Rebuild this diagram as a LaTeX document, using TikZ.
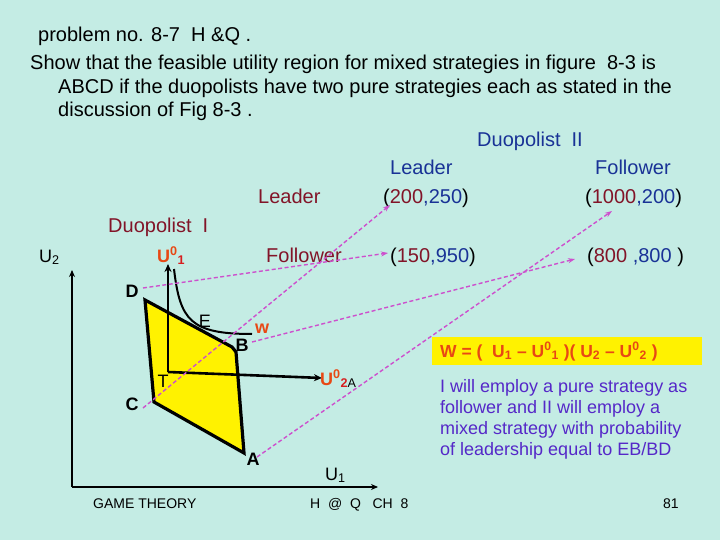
\documentclass[tikz,border=0pt]{standalone}
\usepackage{fontspec}
\setmainfont{Liberation Sans}
\usetikzlibrary{arrows.meta}
\definecolor{bg}{RGB}{196,236,228}
\definecolor{maroon}{RGB}{130,20,40}
\definecolor{navy}{RGB}{25,50,150}
\definecolor{orangered}{RGB}{232,72,20}
\definecolor{subred}{RGB}{215,30,30}
\definecolor{purpletext}{RGB}{85,40,200}
\definecolor{dashmag}{RGB}{205,80,205}
\tikzset{
  txt/.style={anchor=base west, inner sep=0pt, font=\fontsize{20}{22}\selectfont},
  lbl/.style={inner sep=0pt, font=\fontsize{18}{20}\selectfont},
  blbl/.style={inner sep=0pt, font=\fontsize{18}{20}\selectfont\bfseries},
  foot/.style={anchor=base west, inner sep=0pt, font=\fontsize{14}{16}\selectfont},
  darr/.style={draw=dashmag, line width=1.4pt, dash pattern=on 4pt off 2.5pt, -{Stealth[length=7pt,width=5pt]}},
  axis/.style={draw=black, line width=2pt, -{Stealth[length=7pt,width=6pt]}},
  inaxis/.style={draw=black, line width=2.6pt, -{Stealth[length=8pt,width=7pt]}},
}
\begin{document}
\begin{tikzpicture}[x=1pt,y=-1pt]
\fill[bg] (0,0) rectangle (720,540);
\useasboundingbox (0,0) rectangle (720,540);

% heading text
\node[txt] (t1) at (38,42) {problem no. 8-7\ \ H \&Q .};
\node[txt] (t2) at (30,70) {Show that the feasible utility region for mixed strategies in figure\ \ 8-3 is};
\node[txt] (t3) at (58,94) {ABCD if the duopolists have two pure strategies each as stated in the};
\node[txt] (t4) at (58,117) {discussion of Fig 8-3 .};

% payoff table
\node[txt, text=navy] (duo2) at (477,147) {Duopolist\ \ II};
\node[txt, text=navy] (lead2) at (390,175) {Leader};
\node[txt, text=navy] (foll2) at (595,175) {Follower};
\node[txt, text=maroon] (lead1) at (258,204) {Leader};
\node[txt] (p11) at (383,204) {(\textcolor{maroon}{200}\textcolor{navy}{,250})};
\node[txt] (p12) at (585,204) {(\textcolor{maroon}{1000}\textcolor{navy}{,200})};
\node[txt, text=maroon] (duo1) at (108,233) {Duopolist\ \ I};
\node[txt, text=maroon] (foll1) at (266,262) {Follower};
\node[txt] (p21) at (390,262) {(\textcolor{maroon}{150}\textcolor{navy}{,950})};
\node[txt] (p22) at (587,262) {(\textcolor{maroon}{800 }\textcolor{navy}{,800 })};

% outer axes
\coordinate (O) at (72,487);
\coordinate (Ytop) at (72,270);
\coordinate (Xend) at (378,487);
\draw[axis] (O) -- (Ytop);
\draw[axis] (O) -- (Xend);
\node[lbl, anchor=base west] (U2) at (39,262) {U\textsubscript{2}};
\node[lbl, anchor=base west] (U1) at (325,480) {U\textsubscript{1}};

% feasible region
\coordinate (D) at (145,300);
\coordinate (Bk) at (232,347);
\coordinate (B) at (236,352);
\coordinate (A) at (244,453);
\coordinate (C) at (154,402);
\filldraw[fill=yellow, draw=black, line width=3.2pt, line join=miter] (D) -- (Bk) -- (B) -- (A) -- (C) -- cycle;

% inner axes from threat point T
\coordinate (T) at (168,372);
\coordinate (Ttop) at (168,264);
\coordinate (Tend) at (322,378);
\draw[inaxis] (T) -- (Ttop);
\draw[inaxis] (T) -- (Tend);

% indifference curve
\coordinate (h0) at (174,269);
\coordinate (h1) at (252,334);
\draw[black, line width=2pt] (h0) .. controls (180,320) and (190,334) .. (h1);

% point labels
\node[blbl] (lD) at (132,291) {D};
\node[blbl] (lC) at (132,404) {C};
\node[lbl] (lT) at (163,381) {T};
\node[blbl] (lA) at (253,459) {A};
\node[blbl] (lB) at (242,345) {B};
\node[lbl] (lE) at (205,321) {E};
\node[blbl, text=orangered] (lw) at (262,329) {w};
\node[blbl, text=orangered, anchor=base west] (U01) at (157,262) {U\textsuperscript{0}\textsubscript{\textcolor{subred}{1}}};
\node[blbl, text=orangered, anchor=base west] (U02) at (320,385) {U\textsuperscript{0}\textsubscript{\textcolor{subred}{2}\textcolor{black}{\mdseries A}}};

% dashed mapping arrows
\coordinate (sD) at (143,288);
\coordinate (sC) at (143,408);
\coordinate (sB) at (252,342);
\coordinate (sA) at (257,457);
\coordinate (e21) at (388,253);
\coordinate (e11) at (390,205);
\coordinate (e22) at (575,259);
\coordinate (e12) at (612,211);
\draw[darr] (sD) -- (e21);
\draw[darr] (sC) -- (e11);
\draw[darr] (sB) -- (e22);
\draw[darr] (sA) -- (e12);

% Nash product box
\node[fill=yellow, minimum width=270pt, minimum height=28pt, anchor=north west, inner sep=0pt] (wbox) at (432,337) {};
\node[anchor=base west, inner sep=0pt, text=orangered, font=\fontsize{17.5}{19}\selectfont\bfseries] (wtxt) at (440,357)
  {W = (\ \ U\textsubscript{1} -- U\textsuperscript{0}\textsubscript{1} )( U\textsubscript{2} -- U\textsuperscript{0}\textsubscript{2} )};

% explanation
\node[anchor=north west, inner sep=0pt, align=left, text=purpletext, font=\fontsize{18}{21}\selectfont] (expl) at (440,379)
  {I will employ a pure strategy as\\follower and II will employ a\\mixed strategy with probability\\of leadership equal to EB/BD};

% footer
\node[foot] (f1) at (93,508) {GAME THEORY};
\node[foot] (f2) at (310,508) {H\ \ @\ \ Q\ \ \ CH\ \ 8};
\node[foot] (f3) at (663,508) {81};
\end{tikzpicture}
\end{document}
